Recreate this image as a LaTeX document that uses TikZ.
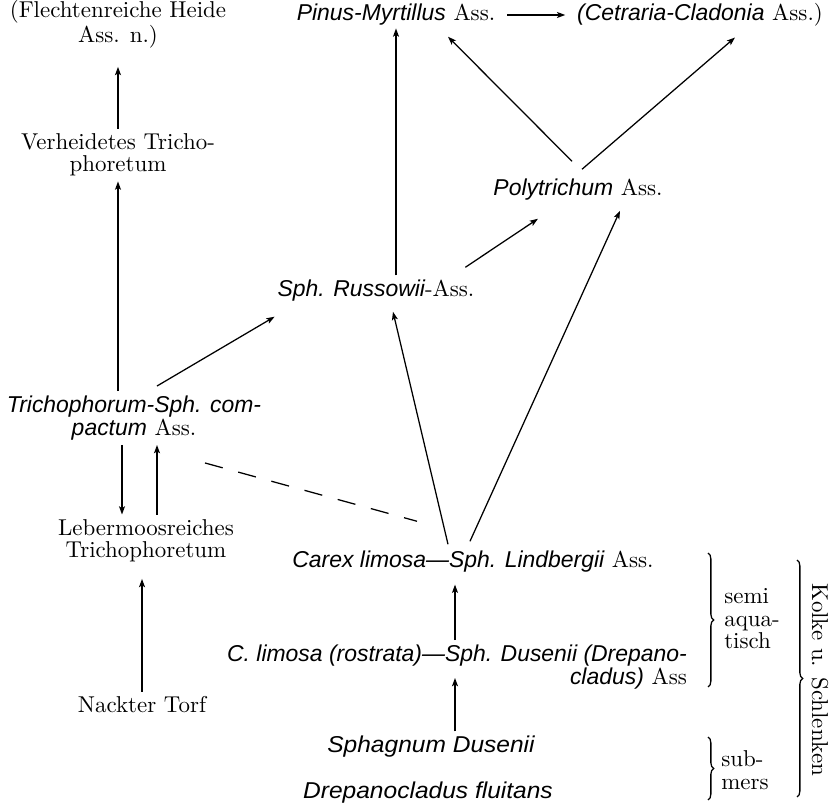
\documentclass[tikz,border=0pt]{standalone}
\usepackage{fontspec}
\newfontfamily\sppfont{Liberation Sans}
\newfontfamily\sppwide{Liberation Sans}[FakeStretch=1.07]
\newcommand{\spp}[1]{{\sppfont\itshape #1}}
\usetikzlibrary{arrows.meta,calc,decorations.pathreplacing}

\begin{document}
\begin{tikzpicture}[x=0.436pt,y=-0.436pt]
\tikzstyle{every node} = [inner sep=2pt, align=center, font=\fontsize{10}{9.8}\selectfont]
\tikzstyle{edge} = [draw, line width=0.55pt, -{Stealth[length=3.6pt,width=2.6pt,inset=0.8pt]}]
\tikzstyle{dashedge} = [draw, line width=0.55pt, dash pattern=on 8pt off 7pt]
\tikzstyle{brace} = [draw, line width=0.55pt, decorate, decoration={brace, amplitude=2.5pt}]
\useasboundingbox (0,0) rectangle (838,805);
% left column
\node (flecht) at (118,24) {(Flechtenreiche Heide\\Ass. n.)};
\node (verh) at (118,155) {Verheidetes Tricho-\\phoretum};
\node (trich) at (134,418) {\spp{Trichophorum-Sph. com-}\\\spp{pactum} Ass.};
\node (leber) at (146,541) {Lebermoosreiches\\Trichophoretum};
\node (torf) at (142,705) {Nackter Torf};
% middle and top
\node (pinus) at (396,15) {\spp{Pinus-Myrtillus} Ass.};
\node (cetr) at (700,15) {\spp{(Cetraria-Cladonia} Ass.)};
\node (poly) at (578,190) {\spp{Polytrichum} Ass.};
\node (russ) at (376,291) {\spp{Sph. Russowii}-Ass.};
% Kolke column
\node (carex) at (473,562) {\spp{Carex limosa—Sph. Lindbergii} Ass.};
\node[align=right] (climosa) at (457,667) {\spp{C. limosa (rostrata)—Sph. Dusenii (Drepano-}\\\spp{cladus)} Ass};
\node (sphag) at (431,747) {{\sppwide\itshape Sphagnum Dusenii}};
\node (drep) at (428,793) {{\sppwide\itshape Drepanocladus fluitans}};
\node[align=left] (semi) at (752,619) {semi\\aqua-\\tisch};
\node[align=left] (sub) at (745,770) {sub-\\mers};
\node[rotate=-90] (kolke) at (820,680) {Kolke u. Schlenken};
% arrows
\draw[edge, shorten >=6pt] (verh) -- (flecht);
\draw[edge] (trich.north -| verh) -- (verh);
\draw[edge] ([shift={(23,-5)}]trich.north) -- ([shift={(2,10)}]russ.south west);
\draw[edge, shorten >=-1pt] (russ.north -| pinus) -- (pinus);
\draw[edge] ([shift={(-6,-13)}]poly.north) -- ([shift={(52,6)}]pinus.south);
\draw[edge] ([shift={(4,-5)}]poly.north) -- ([shift={(35,6)}]cetr.south);
\draw[edge] ([shift={(-14,-8)}]russ.north east) -- ([shift={(-40,13)}]poly.south);
\draw[edge] ([shift={(-25,-2)}]carex.north) -- ([shift={(17,5)}]russ.south);
\draw[edge] ([shift={(-3,-5)}]carex.north) -- ([shift={(42,5)}]poly.south);
\draw[edge, shorten <=3pt, shorten >=3pt] (pinus) -- (cetr);
\draw[dashedge] ([shift={(71,18)}]trich.south) -- ([shift={(-56,-25)}]carex.north);
\draw[edge] ($(trich.south)+(-12,0)$) -- ($(trich.south |- leber.north)+(-12,0)$);
\draw[edge] ($(leber.north)+(11,0)$) -- ($(leber.north |- trich.south)+(11,0)$);
\draw[edge, shorten >=5pt] (torf.north) -- (torf.north |- leber.south);
\draw[edge, shorten >=3pt] ($(climosa.north)+(-2,0)$) -- ($(climosa.north |- carex.south)+(-2,0)$);
\draw[edge] ($(sphag.north)+(24,0)$) -- ($(sphag.north |- climosa.center)+(24,11)$);
% braces
\draw[brace] (708,553) -- (708,687);
\draw[brace] (708,737) -- (708,800);
\draw[brace] (797,560) -- (797,797);
\end{tikzpicture}
\end{document}
